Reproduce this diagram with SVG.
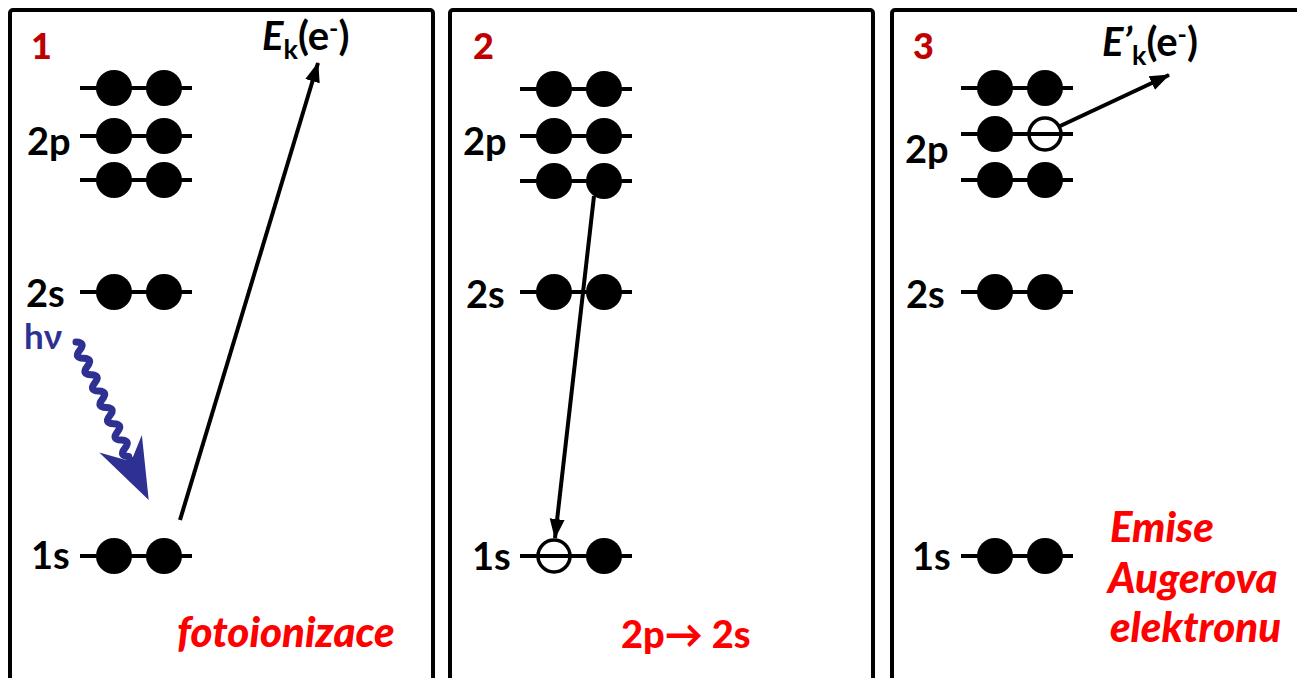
<svg xmlns="http://www.w3.org/2000/svg" width="1297" height="678" viewBox="0 0 1297 678">
<style>
.box{fill:none;stroke:#000;stroke-width:4}
.lvl{stroke:#000;stroke-width:4}
.e{fill:#000}
.h{fill:none;stroke:#000;stroke-width:3.5}
.lab{font-family:Lato,"Liberation Sans",sans-serif;font-weight:bold;font-size:38px;fill:#000}
.num{font-family:Lato,"Liberation Sans",sans-serif;font-weight:900;font-size:36px;fill:#c00000}
.red{font-family:Lato,"Liberation Sans",sans-serif;font-weight:900;font-size:42px;fill:#ff0000}
.it{font-style:italic}
.arr{stroke:#000;stroke-width:4;fill:none}
</style>
<defs>
<marker id="ah" markerUnits="userSpaceOnUse" markerWidth="22" markerHeight="18" refX="19" refY="9" orient="auto">
<path d="M0,1.5 L20,9 L0,16.5 z" fill="#000"/>
</marker>
</defs>
<rect width="1297" height="678" fill="#fff"/>

<g id="panel1">
<rect class="box" x="10" y="10" width="423" height="720" rx="3"/>
<text class="num" x="31" y="59">1</text>
<g id="p1-2p-a"><line class="lvl" x1="80" y1="88" x2="192" y2="88"/><circle class="e" cx="114" cy="88" r="18"/><circle class="e" cx="164" cy="88" r="18"/></g>
<g id="p1-2p-b"><line class="lvl" x1="80" y1="136" x2="192" y2="136"/><circle class="e" cx="114" cy="136" r="18"/><circle class="e" cx="164" cy="136" r="18"/></g>
<g id="p1-2p-c"><line class="lvl" x1="80" y1="180" x2="192" y2="180"/><circle class="e" cx="114" cy="180" r="18"/><circle class="e" cx="164" cy="180" r="18"/></g>
<text class="lab" x="27" y="155">2p</text>
<g id="p1-2s"><line class="lvl" x1="80" y1="292" x2="192" y2="292"/><circle class="e" cx="114" cy="292" r="18"/><circle class="e" cx="164" cy="292" r="18"/></g>
<text class="lab" x="26" y="307">2s</text>
<g id="p1-1s"><line class="lvl" x1="80" y1="556" x2="192" y2="556"/><circle class="e" cx="114" cy="556" r="18"/><circle class="e" cx="164" cy="556" r="18"/></g>
<text class="lab" x="31" y="569">1s</text>
<text class="lab" x="262" y="50" style="font-size:40px"><tspan class="it">E</tspan><tspan font-size="27" dy="9">k</tspan><tspan dy="-9">(e</tspan><tspan font-size="25" dy="-13">-</tspan><tspan dy="13">)</tspan></text>
<text x="24" y="349" font-family="Lato,'DejaVu Sans',sans-serif" font-weight="bold" font-size="35" fill="#2e3192">hν</text>
<g id="photon" transform="translate(76,342) rotate(65.3)">
<path d="M0,0 q4.5,-9 9,0 t9,0 t9,0 t9,0 t9,0 t9,0 t9,0 t9,0 t9,0 t9,0 t9,0 t9,0 t9,0 t9,0" fill="none" stroke="#2e3192" stroke-width="7" stroke-linecap="round"/>
<polygon points="174,0 112,-21 128,-4 128,4 110,25" fill="#2e3192"/>
</g>
<text class="red it" x="177" y="647">fotoionizace</text>
</g>

<g id="panel2">
<rect class="box" x="450" y="10" width="423" height="720" rx="3"/>
<text class="num" x="473" y="59">2</text>
<g id="p2-2p-a"><line class="lvl" x1="520" y1="89" x2="632" y2="89"/><circle class="e" cx="554" cy="89" r="18"/><circle class="e" cx="604" cy="89" r="18"/></g>
<g id="p2-2p-b"><line class="lvl" x1="520" y1="136" x2="632" y2="136"/><circle class="e" cx="554" cy="136" r="18"/><circle class="e" cx="604" cy="136" r="18"/></g>
<g id="p2-2p-c"><line class="lvl" x1="520" y1="181" x2="632" y2="181"/><circle class="e" cx="554" cy="181" r="18"/><circle class="e" cx="604" cy="181" r="18"/></g>
<text class="lab" x="463" y="155">2p</text>
<g id="p2-2s"><line class="lvl" x1="520" y1="292" x2="632" y2="292"/><circle class="e" cx="554" cy="292" r="18"/><circle class="e" cx="604" cy="292" r="18"/></g>
<text class="lab" x="466" y="308">2s</text>
<g id="p2-1s"><line class="lvl" x1="520" y1="556" x2="632" y2="556"/><circle class="h" cx="554" cy="556" r="16"/><circle class="e" cx="604" cy="556" r="18"/></g>
<text class="lab" x="472" y="570">1s</text>
<text class="red" x="621" y="648" style="font-size:38px">2p→ 2s</text>
</g>

<g id="panel3">
<rect class="box" x="892" y="10" width="500" height="720" rx="3"/>
<text class="num" x="913" y="59">3</text>
<g id="p3-2p-a"><line class="lvl" x1="961" y1="88" x2="1073" y2="88"/><circle class="e" cx="995" cy="88" r="18"/><circle class="e" cx="1045" cy="88" r="18"/></g>
<g id="p3-2p-b"><line class="lvl" x1="961" y1="134" x2="1073" y2="134"/><circle class="e" cx="995" cy="134" r="18"/><circle class="h" cx="1045" cy="134" r="16"/></g>
<g id="p3-2p-c"><line class="lvl" x1="961" y1="180" x2="1073" y2="180"/><circle class="e" cx="995" cy="180" r="18"/><circle class="e" cx="1045" cy="180" r="18"/></g>
<text class="lab" x="905" y="163">2p</text>
<g id="p3-2s"><line class="lvl" x1="961" y1="292" x2="1073" y2="292"/><circle class="e" cx="995" cy="292" r="18"/><circle class="e" cx="1045" cy="292" r="18"/></g>
<text class="lab" x="906" y="308">2s</text>
<g id="p3-1s"><line class="lvl" x1="961" y1="556" x2="1073" y2="556"/><circle class="e" cx="995" cy="556" r="18"/><circle class="e" cx="1045" cy="556" r="18"/></g>
<text class="lab" x="912" y="570">1s</text>
<text class="lab" x="1102" y="56" style="font-size:40px"><tspan class="it">E’</tspan><tspan font-size="27" dy="9">k</tspan><tspan dy="-9">(e</tspan><tspan font-size="25" dy="-13">-</tspan><tspan dy="13">)</tspan></text>
<text class="red it" x="1110" y="542">Emise</text>
<text class="red it" x="1108" y="593">Augerova</text>
<text class="red it" x="1110" y="642">elektronu</text>
</g>

<g id="connectors">
<line class="arr" x1="180" y1="520" x2="318" y2="63" marker-end="url(#ah)"/>
<line class="arr" x1="594" y1="196" x2="555" y2="538" marker-end="url(#ah)"/>
<line class="arr" x1="1058" y1="127" x2="1169" y2="75" marker-end="url(#ah)"/>
</g>
</svg>
